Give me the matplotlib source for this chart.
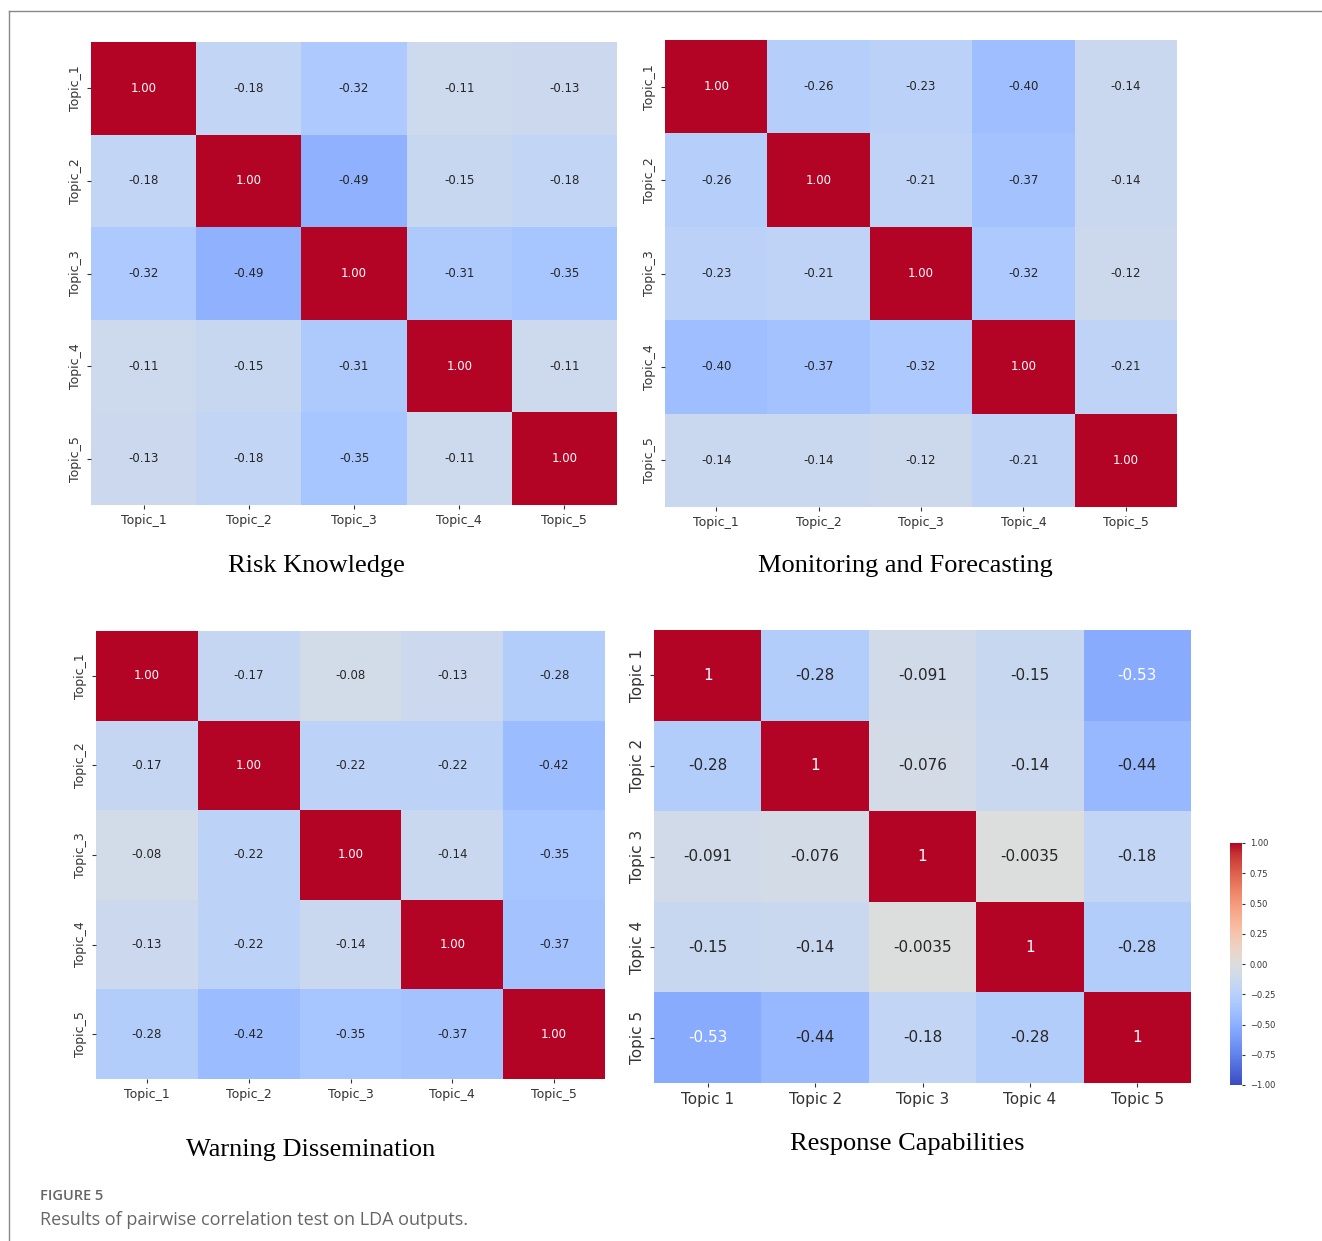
import numpy as np
import matplotlib
matplotlib.use('Agg')
import matplotlib.pyplot as plt
import seaborn as sns

labels_us = ['Topic_1', 'Topic_2', 'Topic_3', 'Topic_4', 'Topic_5']
labels_sp = ['Topic 1', 'Topic 2', 'Topic 3', 'Topic 4', 'Topic 5']

risk_knowledge = [
    [1.00, -0.18, -0.32, -0.11, -0.13],
    [-0.18, 1.00, -0.49, -0.15, -0.18],
    [-0.32, -0.49, 1.00, -0.31, -0.35],
    [-0.11, -0.15, -0.31, 1.00, -0.11],
    [-0.13, -0.18, -0.35, -0.11, 1.00],
]
monitoring = [
    [1.00, -0.26, -0.23, -0.40, -0.14],
    [-0.26, 1.00, -0.21, -0.37, -0.14],
    [-0.23, -0.21, 1.00, -0.32, -0.12],
    [-0.40, -0.37, -0.32, 1.00, -0.21],
    [-0.14, -0.14, -0.12, -0.21, 1.00],
]
warning = [
    [1.00, -0.17, -0.08, -0.13, -0.28],
    [-0.17, 1.00, -0.22, -0.22, -0.42],
    [-0.08, -0.22, 1.00, -0.14, -0.35],
    [-0.13, -0.22, -0.14, 1.00, -0.37],
    [-0.28, -0.42, -0.35, -0.37, 1.00],
]
response = [
    [1, -0.28, -0.091, -0.15, -0.53],
    [-0.28, 1, -0.076, -0.14, -0.44],
    [-0.091, -0.076, 1, -0.0035, -0.18],
    [-0.15, -0.14, -0.0035, 1, -0.28],
    [-0.53, -0.44, -0.18, -0.28, 1],
]

titles = ['Risk Knowledge', 'Monitoring and Forecasting',
          'Warning Dissemination', 'Response Capabilities']

W, H = 1322, 1241
fig = plt.figure(figsize=(W / 100, H / 100), dpi=100)


def px_axes(x0, y0, x1, y1):
    return fig.add_axes([x0 / W, 1 - y1 / H, (x1 - x0) / W, (y1 - y0) / H])


def draw_heatmap(ax, data, labels, fmt, tick_size, annot_size, white_below=None):
    arr = np.array(data)
    sns.heatmap(arr, ax=ax, cmap='coolwarm', vmin=-1, vmax=1,
                annot=True, fmt=fmt, cbar=False,
                annot_kws={'size': annot_size},
                xticklabels=labels, yticklabels=labels)
    ax.tick_params(colors='#333333', labelsize=tick_size, length=3)
    for t in ax.get_xticklabels():
        t.set_rotation(0)
    for t in ax.get_yticklabels():
        t.set_rotation(90)
        t.set_va('center')
    # lighter text on the darker blue cells
    if white_below is not None:
        for t, v in zip(ax.texts, arr.flatten()):
            if v <= white_below:
                t.set_color('white')


ax1 = px_axes(91, 42, 617, 505)
draw_heatmap(ax1, risk_knowledge, labels_us, '.2f', 9, 8.5)
ax2 = px_axes(665, 40, 1177, 507)
draw_heatmap(ax2, monitoring, labels_us, '.2f', 9, 8.5)
ax3 = px_axes(96, 631, 605, 1079)
draw_heatmap(ax3, warning, labels_us, '.2f', 9, 8.5)
ax4 = px_axes(654, 630, 1191, 1083)
draw_heatmap(ax4, response, labels_sp, '.2g', 11, 11, white_below=-0.5)

# colorbar
cax = px_axes(1230, 843, 1242, 1085)
sm = plt.cm.ScalarMappable(cmap='coolwarm', norm=plt.Normalize(-1, 1))
cb = fig.colorbar(sm, cax=cax, ticks=[-1, -0.75, -0.5, -0.25, 0, 0.25, 0.5, 0.75, 1])
cb.ax.set_yticklabels(['\u22121.00', '\u22120.75', '\u22120.50', '\u22120.25', '0.00',
                       '0.25', '0.50', '0.75', '1.00'])
cb.ax.tick_params(labelsize=6, colors='#333333', length=2)
cb.outline.set_visible(False)

# panel titles
title_pos = [(316, 566), (905, 566), (311, 1150), (907, 1144)]
for (tx, ty), title in zip(title_pos, titles):
    fig.text(tx / W, 1 - ty / H, title, ha='center', va='center',
             family='Liberation Serif', fontsize=19, color='black')

# caption
fig.text(40 / W, 1 - 1196 / H, 'FIGURE 5', ha='left', va='center',
         fontsize=10.5, color='#666666', family='Open Sans', weight='semibold')
fig.text(40 / W, 1 - 1220 / H, 'Results of pairwise correlation test on LDA outputs.',
         ha='left', va='center', fontsize=13, color='#666666', family='Open Sans')

# frame lines (top and left)
fig.add_artist(plt.Line2D([9 / W, 1], [1 - 11 / H, 1 - 11 / H], color='#888888', lw=1))
fig.add_artist(plt.Line2D([9 / W, 9 / W], [0, 1 - 11 / H], color='#888888', lw=1))

fig.savefig('out.png', dpi=100)
